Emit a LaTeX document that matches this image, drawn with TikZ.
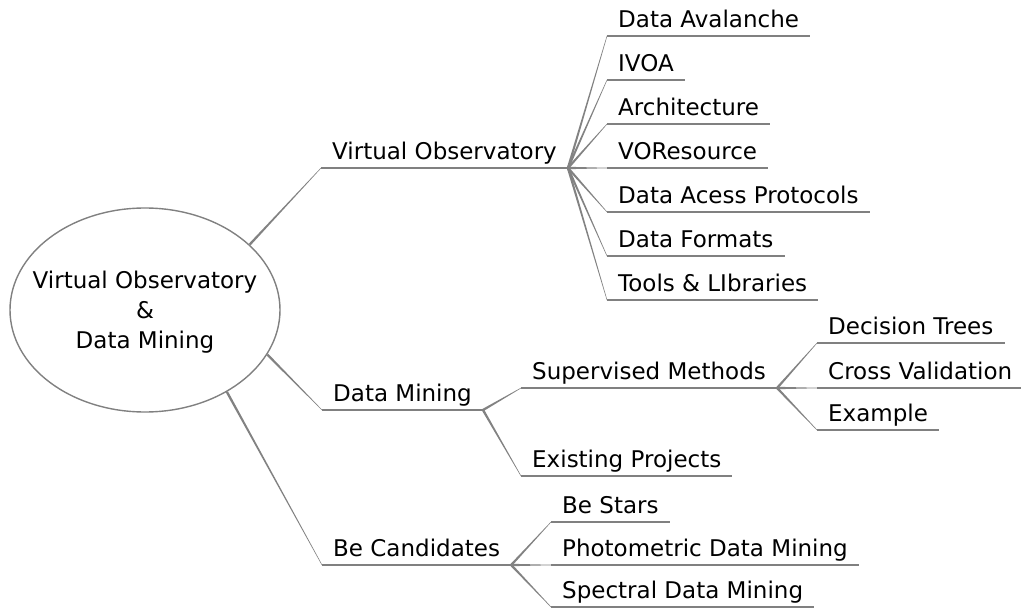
\documentclass[tikz,border=0pt]{standalone}
\usepackage{fontspec}
\setmainfont{DejaVu Sans}
\usetikzlibrary{shapes.geometric,calc}
\definecolor{lg}{RGB}{128,128,128}
\definecolor{cg}{RGB}{130,130,130}
\newcommand\taper[3][1.2pt]{\fill[cg] ($(#2)!#1!90:(#3)$) -- ($(#3)!0.25pt!-90:(#2)$) -- ($(#3)!0.25pt!90:(#2)$) -- ($(#2)!#1!-90:(#3)$) -- cycle;}
\tikzset{
  lbl/.style={anchor=south west, inner xsep=11pt, inner ysep=8.5pt, text depth=0pt, font=\fontsize{23}{28}\selectfont},
  uline/.style={draw=lg, line width=2pt},
  rootshape/.style={ellipse, draw=lg, line width=1.4pt, minimum width=270pt, minimum height=204pt, inner sep=0pt},
  roottext/.style={align=center, font=\fontsize{23}{30}\selectfont}
}
\begin{document}
\begin{tikzpicture}[x=1pt,y=-1pt]
\useasboundingbox (0,0) rectangle (1021,610);
\node[rootshape] (root) at (145,310) {};
\node[roottext] (roottxt) at (145,312) {Virtual Observatory\\\&\\Data Mining};
% level 1
\node[lbl] (vo) at (321,168) {Virtual Observatory};
\node[lbl] (dm) at (322,410) {Data Mining};
\node[lbl] (bc) at (322,565) {Be Candidates};
% VO children
\node[lbl] (v1) at (607,36) {Data Avalanche};
\node[lbl] (v2) at (607,80) {IVOA};
\node[lbl] (v3) at (607,124) {Architecture};
\node[lbl] (v4) at (607,168) {VOResource};
\node[lbl] (v5) at (607,212) {Data Acess Protocols};
\node[lbl] (v6) at (607,256) {Data Formats};
\node[lbl] (v7) at (607,300) {Tools \& LIbraries};
% DM children
\node[lbl] (sm) at (521,388) {Supervised Methods};
\node[lbl] (ep) at (521,476) {Existing Projects};
\node[lbl] (s1) at (817,343) {Decision Trees};
\node[lbl] (s2) at (817,388) {Cross Validation};
\node[lbl] (s3) at (817,430) {Example};
% BC children
\node[lbl] (b1) at (551,522) {Be Stars};
\node[lbl] (b2) at (551,565) {Photometric Data Mining};
\node[lbl] (b3) at (551,607) {Spectral Data Mining};
% connectors
\taper{root.32}{vo.south west}
\taper{root.-20}{dm.south west}
\taper{root.-45}{bc.south west}
\foreach \c in {v1,v2,v3,v4,v5,v6,v7} {\taper{vo.south east}{\c.south west}}
\foreach \c in {sm,ep} {\taper{dm.south east}{\c.south west}}
\foreach \c in {s1,s2,s3} {\taper{sm.south east}{\c.south west}}
\foreach \c in {b1,b2,b3} {\taper{bc.south east}{\c.south west}}
% underlines
\foreach \n in {vo,dm,bc,v1,v2,v3,v4,v5,v6,v7,sm,ep,s1,s2,s3,b1,b2,b3} {\draw[uline] (\n.south west) -- (\n.south east);}
\end{tikzpicture}
\end{document}
